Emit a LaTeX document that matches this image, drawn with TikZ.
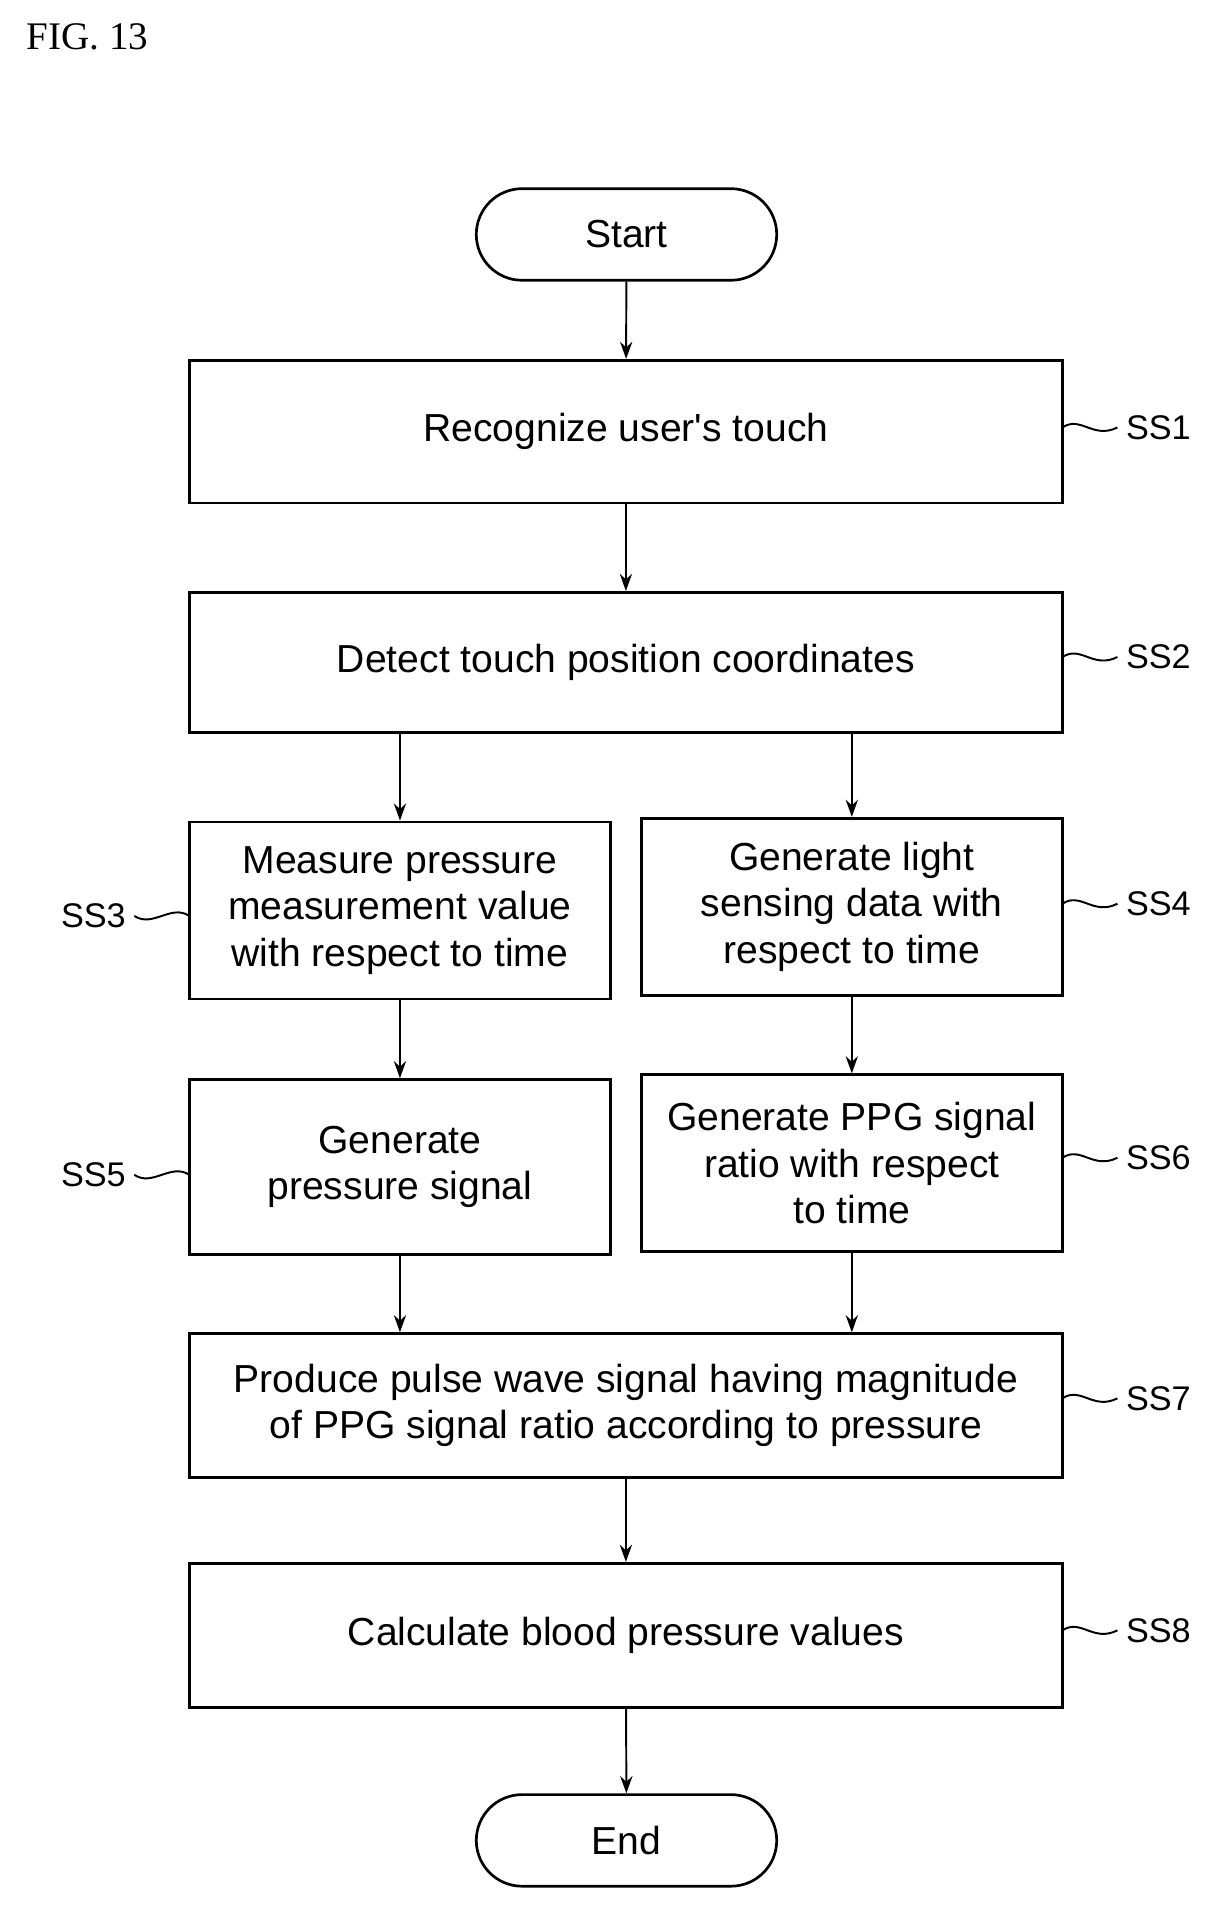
\documentclass[tikz,border=0pt]{standalone}
\usepackage{fontspec}
\setmainfont{Liberation Sans}
\newfontfamily\figfont{Liberation Serif}
\usetikzlibrary{arrows.meta,shapes.misc}
\begin{document}
\begin{tikzpicture}[x=0.5pt,y=-0.5pt,
 box/.style={draw,line width=1.1pt,align=center,font=\fontsize{16}{19}\selectfont,inner sep=0pt},
 term/.style={draw,line width=1.1pt,rounded rectangle,font=\fontsize{16}{19}\selectfont,inner sep=0pt},
 arr/.style={-{Stealth[length=7pt,width=5pt]},line width=0.8pt},
 lab/.style={font=\fontsize{14}{16}\selectfont},
 lead/.style={line width=0.8pt}]
\useasboundingbox (0,0) rectangle (1000,1573);
\node[font=\figfont\fontsize{16}{19}\selectfont,anchor=west] (fig) at (15,30) {FIG. 13};
\node[term,minimum width=123pt,minimum height=37.5pt] (start) at (513,192) {Start};
\node[box,minimum width=357.5pt,minimum height=58.5pt] (s1) at (512.5,353.5) {Recognize user\textquotesingle s touch};
\node[box,minimum width=357.5pt,minimum height=57.5pt] (s2) at (512.5,542.5) {Detect touch position coordinates};
\node[box,minimum width=172.5pt,minimum height=72.5pt] (s3) at (327.5,745.5) {Measure pressure\\measurement value\\with respect to time};
\node[box,minimum width=172.5pt,minimum height=72.5pt] (s4) at (697.5,742.5) {Generate light\\sensing data with\\respect to time};
\node[box,minimum width=172.5pt,minimum height=71.5pt] (s5) at (327.5,955.5) {Generate\\pressure signal};
\node[box,minimum width=172.5pt,minimum height=72.5pt] (s6) at (697.5,952.5) {Generate PPG signal\\ratio with respect\\to time};
\node[box,minimum width=357.5pt,minimum height=59pt] (s7) at (512.5,1151) {Produce pulse wave signal having magnitude\\of PPG signal ratio according to pressure};
\node[box,minimum width=357.5pt,minimum height=59pt] (s8) at (512.5,1339) {Calculate blood pressure values};
\node[term,minimum width=123pt,minimum height=37.5pt] (end) at (513,1507) {End};
\draw[arr] (start) -- (s1);
\draw[arr] (s1) -- (s2);
\draw[arr] (s2.south -| s3.north) -- (s3.north);
\draw[arr] (s2.south -| s4.north) -- (s4.north);
\draw[arr] (s3) -- (s5);
\draw[arr] (s4) -- (s6);
\draw[arr] (s5.south) -- (s5.south |- s7.north);
\draw[arr] (s6.south) -- (s6.south |- s7.north);
\draw[arr] (s7) -- (s8);
\draw[arr] (s8) -- (end);
\foreach \n/\y/\t in {s1/350/SS1,s2/538/SS2,s4/740/SS4,s6/948/SS6,s7/1145/SS7,s8/1335/SS8}{
 \node[lab,anchor=west] (l\n) at (915,\y) {\t};
 \draw[lead] (870,\y) .. controls (885,\y-10) and (895,\y+10) .. (l\n.west);
}
\foreach \n/\y/\t in {s3/750/SS3,s5/962/SS5}{
 \node[lab,anchor=east] (l\n) at (110,\y) {\t};
 \draw[lead] (l\n.east) .. controls (125,\y+10) and (140,\y-10) .. (155,\y);
}
\end{tikzpicture}
\end{document}
